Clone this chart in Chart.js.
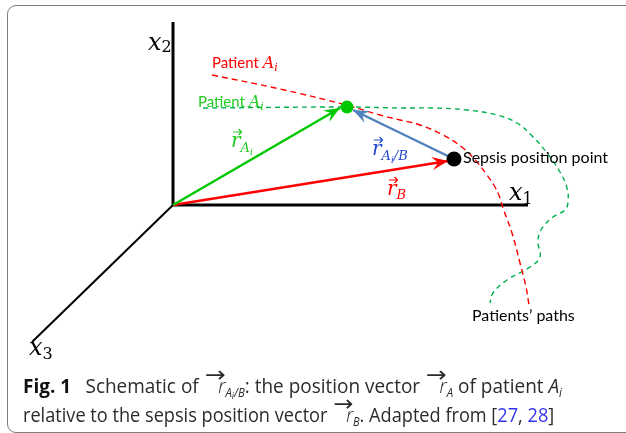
<!DOCTYPE html>
<html lang="en">
  <head>
    <meta charset="UTF-8" />
    <title>Fig. 1 sepsis position schematic</title>
    <script src="https://cdn.jsdelivr.net/npm/chart.js"></script>
    <style>
      body {
        margin: 0;
        width: 626px;
        height: 433px;
        overflow: hidden;
        position: relative;
        background: #fff;
        font-family: "Open Sans", sans-serif;
      }
      #frame {
        position: absolute;
        left: 7px;
        top: 5px;
        width: 640px;
        height: 426px;
        border: 1.5px solid #7d7d7d;
        border-radius: 9px;
      }
      #schematic {
        position: absolute;
        left: 0;
        top: 0;
      }
      #cap {
        position: absolute;
        left: 23px;
        top: 372px;
        font-size: 20px;
        line-height: 28.5px;
        color: #2b2b2b;
        white-space: nowrap;
      }
      #cap .ln {
        display: inline-block;
        transform-origin: 0 0;
      }
      #cap b {
        color: #111;
        margin-right: 10px;
      }
      #cap sub {
        font-size: 12px;
        font-style: italic;
        vertical-align: -4px;
        line-height: 0;
      }
      #cap sub sub {
        font-size: 9px;
        vertical-align: -2px;
      }
      .v {
        display: inline-block;
        position: relative;
        width: 21px;
        text-align: right;
        font-style: italic;
        font-weight: 300;
        margin-left: 2px;
      }
      .v::before {
        content: "\2192";
        position: absolute;
        left: -1px;
        top: -11px;
        font-style: normal;
        font-family: "DejaVu Sans", sans-serif;
        font-weight: normal;
        font-size: 22px;
        transform: scaleX(1.2);
        transform-origin: 0 0;
      }
      .ref {
        color: #3535f0;
      }
    </style>
  </head>
  <body>
    <div id="frame"></div>
    <canvas id="schematic" width="626" height="433"></canvas>
    <div id="cap">
      <span class="ln" id="line1"><b>Fig. 1</b> Schematic of <span class="v">r</span><sub>A<sub>i</sub>/B</sub>: the position vector <span class="v">r</span><sub>A</sub> of patient <i>A<sub>i</sub></i></span><br />
      <span class="ln" id="line2">relative to the sepsis position vector <span class="v">r</span><sub>B</sub>. Adapted from [<span class="ref">27</span>, <span class="ref">28</span>]</span>
    </div>

    <script>
      // schematic coordinates: origin of the axes at (0, 0), y pointing up
      const x1Axis = [{ x: 0, y: 0 }, { x: 355, y: 0 }];
      const x2Axis = [{ x: 0, y: 0 }, { x: 0, y: 183 }];
      const x3Axis = [{ x: 0, y: 0 }, { x: -141, y: -137 }];

      const redPath = [
        { x: 39, y: 130 }, { x: 107, y: 116 }, { x: 173, y: 100 }, { x: 207, y: 90 },
        { x: 227, y: 85 }, { x: 247, y: 80 }, { x: 270, y: 70 }, { x: 290, y: 57 },
        { x: 304, y: 43 }, { x: 314, y: 30 }, { x: 322, y: 18 }, { x: 327, y: 7 },
        { x: 330, y: -3 }, { x: 339, y: -28 }, { x: 347, y: -58 }, { x: 353, y: -82 },
        { x: 356, y: -100 },
      ];
      const greenPath = [
        { x: 30, y: 97 }, { x: 174, y: 98 }, { x: 227, y: 97 }, { x: 260, y: 97 },
        { x: 294, y: 95 }, { x: 324, y: 90 }, { x: 344, y: 82 }, { x: 360, y: 68 },
        { x: 374, y: 52 }, { x: 387, y: 33 }, { x: 394, y: 17 }, { x: 395, y: 3 },
        { x: 392, y: -5 }, { x: 380, y: -12 }, { x: 368, y: -25 }, { x: 365, y: -37 },
        { x: 367, y: -52 }, { x: 357, y: -62 }, { x: 334, y: -75 }, { x: 320, y: -88 },
        { x: 317, y: -98 },
      ];

      const patientPoint = [{ x: 174, y: 98 }];
      const sepsisPoint = [{ x: 281, y: 46 }];
      const vecA = [{ x: 0, y: 0 }, { x: 167, y: 97 }];
      const vecB = [{ x: 0, y: 0 }, { x: 275, y: 44 }];
      const vecAB = [{ x: 281, y: 46 }, { x: 180, y: 95 }];

      const RED = "#ff0000";
      const GREEN = "#00c800";
      const PATH_GREEN = "#00b050";
      const SERIF = '"DejaVu Serif", serif';
      const SANS = "Lato, sans-serif";

      // text notes, anchored at schematic coordinates (left, baseline)
      const notes = [
        { at: [-25, 155], color: "#000", parts: [
          { t: "x", f: "italic 24px " + SERIF }, { t: "2", f: "16px " + SERIF, dy: 2 } ] },
        { at: [336, 5], color: "#000", parts: [
          { t: "x", f: "italic 24px " + SERIF }, { t: "1", f: "16px " + SERIF, dy: 4 } ] },
        { at: [-144, -150], color: "#000", parts: [
          { t: "x", f: "italic 24px " + SERIF }, { t: "3", f: "16px " + SERIF, dy: 4 } ] },
        { at: [39, 137], color: RED, parts: [
          { t: "Patient ", f: "15px " + SANS }, { t: "A", f: "italic 16px " + SERIF },
          { t: "i", f: "italic 11px " + SERIF, dy: 3 } ] },
        { at: [25, 98.5], color: "#22cc22", parts: [
          { t: "Patient ", f: "15px " + SANS }, { t: "A", f: "italic 16px " + SERIF },
          { t: "i", f: "italic 11px " + SERIF, dy: 3 } ] },
        { at: [290, 41.7], color: "#000", parts: [
          { t: "Sepsis position point", f: "16px " + SANS } ] },
        { at: [299, -115.7], color: "#000", parts: [
          { t: "Patients\u2019 paths", f: "16px " + SANS } ] },
        { at: [58, 58], color: "#22cc22", parts: [
          { t: "r", f: "italic 20px " + SERIF, arrow: true },
          { t: "A", f: "italic 13px " + SERIF, dy: 5 }, { t: "i", f: "italic 9px " + SERIF, dy: 8 } ] },
        { at: [199, 50], color: "#2347d0", parts: [
          { t: "r", f: "italic 20px " + SERIF, arrow: true },
          { t: "A", f: "italic 13px " + SERIF, dy: 5 }, { t: "i", f: "italic 9px " + SERIF, dy: 8 },
          { t: "/B", f: "italic 13px " + SERIF, dy: 5 } ] },
        { at: [214, 10], color: RED, parts: [
          { t: "r", f: "italic 20px " + SERIF, arrow: true },
          { t: "B", f: "italic 13px " + SERIF, dy: 4 } ] },
      ];

      const arrowHeads = {
        id: "arrowHeads",
        afterDatasetsDraw(chart) {
          const ctx = chart.ctx;
          chart.data.datasets.forEach((ds, i) => {
            if (!ds.arrowHead) return;
            const pts = chart.getDatasetMeta(i).data;
            const a = pts[pts.length - 2];
            const b = pts[pts.length - 1];
            const ang = Math.atan2(b.y - a.y, b.x - a.x);
            ctx.save();
            ctx.translate(b.x, b.y);
            ctx.rotate(ang);
            ctx.fillStyle = ds.borderColor;
            ctx.beginPath();
            ctx.moveTo(0, 0);
            ctx.lineTo(-16, -6.5);
            ctx.lineTo(-10, 0);
            ctx.lineTo(-16, 6.5);
            ctx.closePath();
            ctx.fill();
            ctx.restore();
          });
        },
      };

      const noteText = {
        id: "noteText",
        afterDatasetsDraw(chart) {
          const ctx = chart.ctx;
          const sx = chart.scales.x;
          const sy = chart.scales.y;
          ctx.save();
          ctx.textBaseline = "alphabetic";
          notes.forEach((n) => {
            let x = sx.getPixelForValue(n.at[0]);
            const y = sy.getPixelForValue(n.at[1]);
            ctx.fillStyle = n.color;
            ctx.strokeStyle = n.color;
            n.parts.forEach((p) => {
              ctx.font = p.f;
              const w = ctx.measureText(p.t).width;
              ctx.fillText(p.t, x, y + (p.dy || 0));
              if (p.arrow) {
                const ay = y - 15;
                ctx.lineWidth = 1.2;
                ctx.beginPath();
                ctx.moveTo(x + 2, ay);
                ctx.lineTo(x + w + 1, ay);
                ctx.moveTo(x + w - 2, ay - 3);
                ctx.lineTo(x + w + 1, ay);
                ctx.lineTo(x + w - 2, ay + 3);
                ctx.stroke();
              }
              x += w;
            });
          });
          ctx.restore();
        },
      };

      const line = (label, data, color, width, extra) =>
        Object.assign(
          { label, data, showLine: true, borderColor: color, borderWidth: width, pointRadius: 0, fill: false },
          extra || {}
        );

      new Chart(document.getElementById("schematic"), {
        type: "scatter",
        data: {
          datasets: [
            { label: "Patient A_i", data: patientPoint, pointRadius: 6.5, backgroundColor: GREEN, borderWidth: 0 },
            { label: "Sepsis position point", data: sepsisPoint, pointRadius: 7.5, backgroundColor: "#000", borderWidth: 0 },
            line("r_Ai/B", vecAB, "#4f81bd", 2.5, { arrowHead: true }),
            line("r_Ai", vecA, GREEN, 2.5, { arrowHead: true }),
            line("r_B", vecB, RED, 2.5, { arrowHead: true }),
            line("red path", redPath, RED, 1.4, { borderDash: [6, 4], tension: 0.4 }),
            line("green path", greenPath, PATH_GREEN, 1.4, { borderDash: [5, 4], tension: 0.4 }),
            line("x1", x1Axis, "#000", 3),
            line("x2", x2Axis, "#000", 3),
            line("x3", x3Axis, "#000", 2),
          ],
        },
        options: {
          responsive: false,
          animation: false,
          devicePixelRatio: 1,
          events: [],
          layout: { padding: 0, autoPadding: false },
          plugins: { legend: { display: false }, tooltip: { enabled: false } },
          scales: {
            x: { type: "linear", min: -173, max: 453, display: false },
            y: { type: "linear", min: -228, max: 205, display: false },
          },
        },
        plugins: [arrowHeads, noteText],
      });

      // squeeze each caption line to the width of the printed one
      const fitLine = (id, target) => {
        const el = document.getElementById(id);
        const w = el.getBoundingClientRect().width;
        el.style.transform = "scaleX(" + (target / w).toFixed(3) + ")";
      };
      fitLine("line1", 539);
      fitLine("line2", 531);
    </script>
  </body>
</html>
